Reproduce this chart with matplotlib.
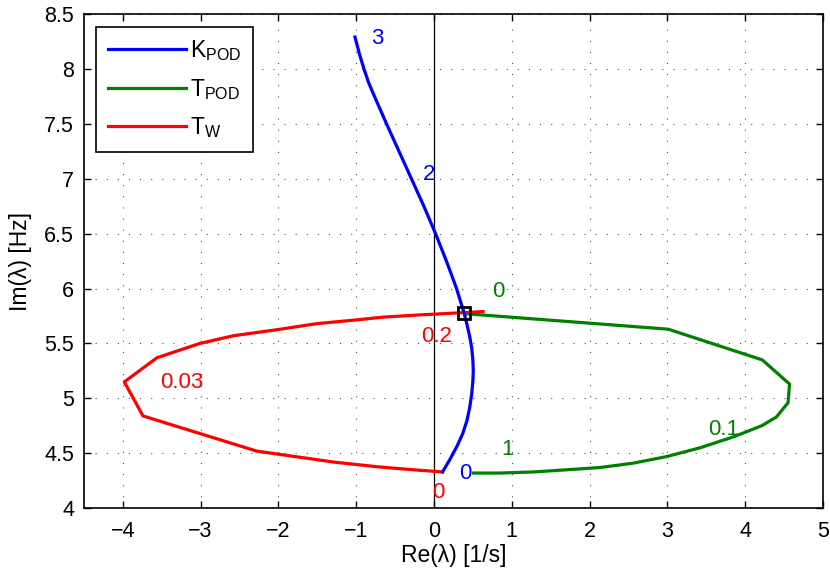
import matplotlib
matplotlib.use("Agg")
import matplotlib.pyplot as plt
import numpy as np

plt.rcParams['font.family'] = ['Liberation Sans', 'DejaVu Sans']
plt.rcParams['mathtext.fontset'] = 'custom'
plt.rcParams['mathtext.rm'] = 'Liberation Sans'

# Root locus branches: real part [1/s], imaginary part [Hz]
kpod_re = [0.11, 0.21, 0.30, 0.37, 0.425, 0.46, 0.485, 0.50, 0.505, 0.50, 0.485, 0.46,
           0.425, 0.386, 0.29, 0.16, 0.02, -0.13, -0.29, -0.45, -0.61, -0.765, -0.84,
           -0.90, -0.96, -1.015]
kpod_im = [4.33, 4.45, 4.57, 4.68, 4.80, 4.92, 5.04, 5.16, 5.25, 5.35, 5.46, 5.56,
           5.67, 5.78, 6.00, 6.25, 6.50, 6.75, 7.00, 7.25, 7.50, 7.75, 7.875,
           8.00, 8.14, 8.29]

tpod_re = [0.42, 3.01, 4.22, 4.57, 4.55, 4.40, 4.21, 3.85, 3.42, 2.99, 2.56, 2.13,
           1.71, 1.28, 0.85, 0.51]
tpod_im = [5.77, 5.63, 5.35, 5.13, 4.96, 4.83, 4.75, 4.65, 4.55, 4.47, 4.41, 4.37,
           4.35, 4.33, 4.32, 4.32]

tw_re = [0.11, -0.18, -0.70, -1.29, -2.28, -3.74, -3.98, -3.56, -3.01, -2.58, -2.02,
         -1.51, -0.99, -0.65, -0.18, 0.63]
tw_im = [4.33, 4.345, 4.375, 4.42, 4.52, 4.84, 5.15, 5.37, 5.50, 5.57, 5.625,
         5.68, 5.715, 5.74, 5.76, 5.79]

# Operating point
op_re, op_im = 0.386, 5.78

# Parameter annotations: (text, re, im, color)
annotations = [
    ("3", -0.73, 8.28, "blue"),
    ("2", -0.06, 7.04, "blue"),
    ("0", 0.40, 4.32, "blue"),
    ("0", 0.83, 5.97, "green"),
    ("1", 0.95, 4.53, "green"),
    ("0.1", 3.72, 4.72, "green"),
    ("0.03", -3.24, 5.14, "red"),
    ("0.2", 0.03, 5.56, "red"),
    ("0", 0.06, 4.14, "red"),
]

fig = plt.figure(figsize=(8.3, 5.71), dpi=100)
ax = fig.add_axes([0.101, 0.110, 0.8906, 0.8655])

ax.axvline(0, color="black", lw=0.9, zorder=1)
l1, = ax.plot(kpod_re, kpod_im, color=(0, 0, 1), lw=2.3, label=r"K$\mathregular{_{POD}}$", zorder=4)
l2, = ax.plot(tpod_re, tpod_im, color=(0, 0.5, 0), lw=2.3, label=r"T$\mathregular{_{POD}}$", zorder=2)
l3, = ax.plot(tw_re, tw_im, color=(1, 0, 0), lw=2.3, label=r"T$\mathregular{_{W}}$", zorder=3)
ax.plot([op_re], [op_im], marker="s", ms=9, mfc="none", mec="black", mew=2, zorder=5)

for txt, x, y, c in annotations:
    ax.text(x, y, txt, color=c, fontsize=16, ha="center", va="center", zorder=6)

ax.set_xlim(-4.5, 5)
ax.set_ylim(4, 8.5)
ax.set_xticks(np.arange(-4, 6, 1))
ax.set_yticks(np.arange(4, 8.51, 0.5))
ax.set_xticklabels(["\u22124", "\u22123", "\u22122", "\u22121", "0", "1", "2", "3", "4", "5"])
ax.set_yticklabels(["4", "4.5", "5", "5.5", "6", "6.5", "7", "7.5", "8", "8.5"])
ax.tick_params(direction="in", top=True, right=True, labelsize=15.5, length=5, width=1)
ax.tick_params(axis="x", pad=9)
ax.tick_params(axis="y", pad=7)
ax.grid(True, color="black", linestyle=(0, (1, 9)), linewidth=0.8, alpha=0.7)
for s in ax.spines.values():
    s.set_linewidth(1.2)

ax.set_xlabel("Re(\u03bb) [1/s]", fontsize=16.5, labelpad=2)
ax.set_ylabel("Im(\u03bb) [Hz]", fontsize=16.5, labelpad=9)

leg = ax.legend(handles=[l1, l2, l3], loc="upper left", fontsize=16.5, handlelength=3.4,
                fancybox=False, edgecolor="black", framealpha=1, borderaxespad=0.55,
                labelspacing=0.6, handletextpad=0.2, borderpad=0.5)
leg.get_frame().set_linewidth(1.2)

fig.savefig("out.png", dpi=100)
